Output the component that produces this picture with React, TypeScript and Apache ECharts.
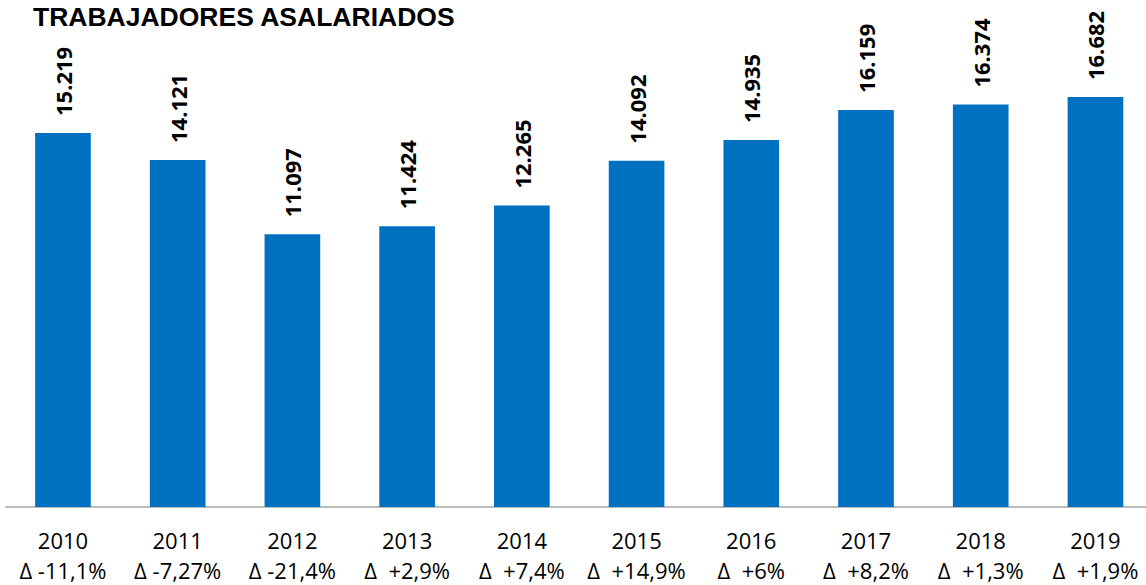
import React, { useEffect, useRef } from "react";
import * as echarts from "echarts";

const years = ["2010", "2011", "2012", "2013", "2014", "2015", "2016", "2017", "2018", "2019"];
const deltas = ["Δ -11,1%", "Δ -7,27%", "Δ -21,4%", "Δ  +2,9%", "Δ  +7,4%", "Δ  +14,9%", "Δ  +6%", "Δ  +8,2%", "Δ  +1,3%", "Δ  +1,9%"];
const values = [15.219, 14.121, 11.097, 11.424, 12.265, 14.092, 14.935, 16.159, 16.374, 16.682];
const title = "TRABAJADORES ASALARIADOS";

export default function App() {
  const ref = useRef<HTMLDivElement>(null);
  useEffect(() => {
    if (!ref.current) return;
    const chart = echarts.init(ref.current, null, { renderer: "svg" });
    const labelFont = { fontFamily: "Open Sans", fontSize: 22, color: "#000" };
    chart.setOption({
      animation: false,
      backgroundColor: "#ffffff",
      title: {
        text: title,
        left: 28,
        top: -2,
        textStyle: { fontFamily: "Liberation Sans", fontWeight: "bold", fontSize: 26.5, color: "#000" },
      },
      grid: { left: 5.6, right: -6.8, top: 15.5, bottom: 78, containLabel: false, outerBoundsMode: "none" },
      xAxis: {
        type: "category",
        data: years,
        axisLine: { lineStyle: { color: "#a6a6a6", width: 1.5 } },
        axisTick: { show: false },
        axisLabel: {
          interval: 0,
          margin: 14,
          formatter: (v: string, i: number) => "{a|" + v + "}\n{b|" + deltas[i] + "}",
          rich: {
            a: { ...labelFont, lineHeight: 37.5 },
            b: { ...labelFont, lineHeight: 22 },
          },
        },
      },
      yAxis: {
        type: "value",
        min: 0,
        max: 20,
        show: false,
        splitLine: { show: false },
      },
      series: [
        {
          type: "bar",
          data: values,
          barWidth: "48.5%",
          itemStyle: { color: "#0070C0" },
          label: {
            show: true,
            position: "top",
            rotate: 90,
            distance: 17,
            align: "left",
            verticalAlign: "middle",
            formatter: (p: any) => p.value.toFixed(3),
            fontFamily: "Open Sans",
            fontWeight: "bold",
            fontSize: 22,
            color: "#000",
          },
        },
      ],
    });
    return () => chart.dispose();
  }, []);
  return (
    <div
      ref={ref}
      style={{ position: "fixed", left: 0, top: 0, width: 1146, height: 585 }}
    />
  );
}
